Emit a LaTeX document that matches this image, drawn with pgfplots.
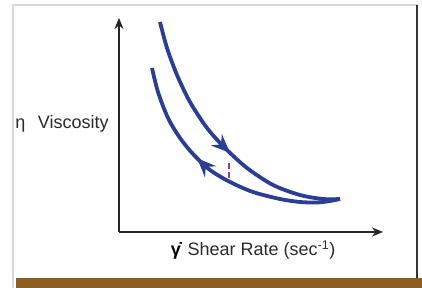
\documentclass[border=0pt]{standalone}
\usepackage{pgfplots}
\pgfplotsset{compat=1.18}
\usepackage{fontspec}
\setmainfont{Liberation Sans}
\usetikzlibrary{arrows.meta,decorations.markings}
\definecolor{curveblue}{HTML}{2B3E94}
\definecolor{dashmag}{HTML}{9B3E86}
\definecolor{framegray}{HTML}{D5D9D9}
\definecolor{brownbar}{HTML}{8C5E26}
\definecolor{labelgray}{HTML}{2A2A2A}
\begin{document}
\begin{tikzpicture}
\begin{axis}[
  scale only axis, width=264pt, height=214pt,
  xmin=0, xmax=264, ymin=0, ymax=214,
  axis lines=left, xtick=\empty, ytick=\empty,
  axis line style={line width=1.3pt, black!85, -{Stealth[length=11pt,width=9pt,inset=3.5pt]}},
  clip=false,
  label style={font=\fontsize{18}{21}\selectfont, text=labelgray},
  xlabel={{\color{black}\textbf{γ̇}}\hspace{0.3em}Shear Rate (sec\textsuperscript{-1})},
  xlabel style={at={(axis description cs:0.508,-0.084)}, anchor=center},
  ylabel={η\hspace{0.7em}Viscosity},
  ylabel style={rotate=-90, at={(axis description cs:-0.216,0.505)}, anchor=center},
]
\addplot[curveblue, line width=3.8pt, smooth, postaction={decorate},
  decoration={markings, mark=at position 0.55 with {\arrow[line width=1pt]{Stealth[length=19pt,width=16pt,inset=7pt]}}}]
  coordinates {(41,210) (48,184) (58,157) (71,130) (88,104) (106,84) (128,64) (154,47) (181,37) (204,33) (221,33)};
\addplot[curveblue, line width=3.8pt, smooth, postaction={decorate},
  decoration={markings, mark=at position 0.40 with {\arrowreversed[line width=1pt]{Stealth[length=19pt,width=16pt,inset=7pt]}}}]
  coordinates {(33,164) (39,140) (49,114) (61,94) (74,78) (91,62) (111,50) (134,40) (161,33) (181,30) (198,29.5) (211,31) (221,33)};
\addplot[dashmag, line width=1.6pt, dash pattern=on 6pt off 3pt] coordinates {(110,54) (110,72)};
\end{axis}
\fill[brownbar] (-103pt,-56pt) rectangle (303pt,-46pt);
\draw[framegray, line width=2pt] (-106pt,-56pt) -- (-106pt,227pt) -- (299pt,227pt);
\draw[black!80, line width=1.5pt] (298pt,227pt) -- (298pt,-46pt);
\pgfresetboundingbox
\path[use as bounding box] (-119pt,-56pt) rectangle (303pt,232pt);
\end{tikzpicture}
\end{document}
